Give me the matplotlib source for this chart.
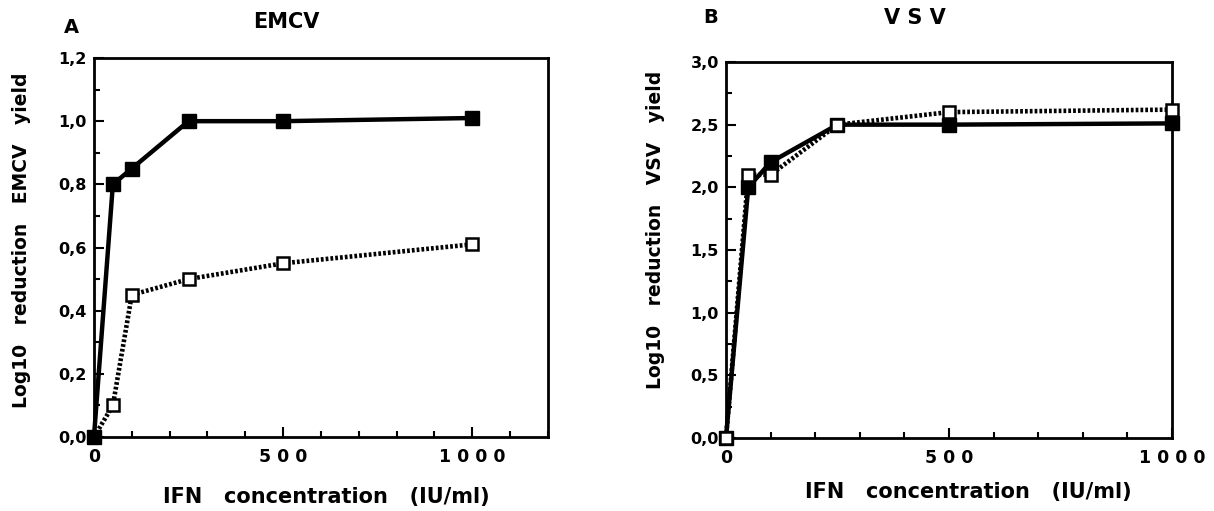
import matplotlib
matplotlib.use("Agg")
import matplotlib.pyplot as plt
from matplotlib.ticker import MultipleLocator, FixedLocator

plt.rcParams['font.family'] = ['DejaVu Sans']
plt.rcParams['font.weight'] = 'bold'

# Data
conc = [0, 50, 100, 250, 500, 1000]
emcv_filled = [0.0, 0.80, 0.85, 1.00, 1.00, 1.01]
emcv_open = [0.0, 0.10, 0.45, 0.50, 0.55, 0.61]
vsv_filled = [0.0, 2.00, 2.20, 2.50, 2.50, 2.51]
vsv_open = [0.0, 2.10, 2.10, 2.50, 2.60, 2.62]

emcv_yticks = [0.0, 0.2, 0.4, 0.6, 0.8, 1.0, 1.2]
emcv_ylabels = ['0,0', '0,2', '0,4', '0,6', '0,8', '1,0', '1,2']
vsv_yticks = [0.0, 0.5, 1.0, 1.5, 2.0, 2.5, 3.0]
vsv_ylabels = ['0,0', '0,5', '1,0', '1,5', '2,0', '2,5', '3,0']
xticks = [0, 500, 1000]
xlabels = ['0', '5 0 0', '1 0 0 0']

fig = plt.figure(figsize=(12.14, 5.11), dpi=100)
axA = fig.add_axes([0.0774, 0.1448, 0.374, 0.7417])
axB = fig.add_axes([0.598, 0.1429, 0.3674, 0.7358])

def style(ax, xmax, ymax, yticks, ylabels, yminor):
    ax.set_xlim(0, xmax)
    ax.set_ylim(0, ymax)
    ax.xaxis.set_major_locator(FixedLocator(xticks))
    ax.set_xticklabels(xlabels)
    ax.xaxis.set_minor_locator(MultipleLocator(100))
    ax.yaxis.set_major_locator(FixedLocator(yticks))
    ax.set_yticklabels(ylabels)
    ax.yaxis.set_minor_locator(MultipleLocator(yminor))
    ax.tick_params(which='both', direction='in', width=1.5)
    ax.tick_params(which='major', length=7)
    ax.tick_params(which='minor', length=4)
    ax.tick_params(axis='x', which='major', pad=8, labelsize=12.5)
    ax.tick_params(axis='y', which='major', pad=5, labelsize=11.5)
    for s in ax.spines.values():
        s.set_linewidth(2)
    for lab in ax.get_xticklabels() + ax.get_yticklabels():
        lab.set_fontweight('bold')

def plot_series(ax, filled, opened, open_on_top):
    ax.plot(conc, opened, linestyle=(0, (0.6, 0.45)), color='black', lw=3.3,
            marker='s', markersize=9, markerfacecolor='white',
            markeredgecolor='black', markeredgewidth=1.8, clip_on=False,
            zorder=5 if open_on_top else 3)
    ax.plot(conc, filled, linestyle='-', color='black', lw=3.2,
            marker='s', markersize=9.5, markerfacecolor='black',
            markeredgecolor='black', clip_on=False, zorder=4)

plot_series(axA, emcv_filled, emcv_open, False)
style(axA, 1200, 1.2, emcv_yticks, emcv_ylabels, 0.1)
plot_series(axB, vsv_filled, vsv_open, True)
style(axB, 1000, 3.0, vsv_yticks, vsv_ylabels, 0.25)

fig.text(0.059, 0.947, 'A', fontsize=14, fontweight='bold', ha='center', va='center')
fig.text(0.236, 0.957, 'EMCV', fontsize=15, fontweight='bold', ha='center', va='center')
fig.text(0.585, 0.965, 'B', fontsize=14, fontweight='bold', ha='center', va='center')
fig.text(0.754, 0.964, 'V S V', fontsize=15, fontweight='bold', ha='center', va='center')

fig.text(0.018, 0.53, 'Log10   reduction   EMCV   yield', rotation=90, fontsize=13.5,
         fontweight='bold', ha='center', va='center')
fig.text(0.540, 0.55, 'Log10   reduction   VSV   yield', rotation=90, fontsize=13.5,
         fontweight='bold', ha='center', va='center')
fig.text(0.2685, 0.027, 'IFN   concentration   (IU/ml)', fontsize=15,
         fontweight='bold', ha='center', va='center')
fig.text(0.798, 0.037, 'IFN   concentration   (IU/ml)', fontsize=15,
         fontweight='bold', ha='center', va='center')

fig.savefig('out.png', dpi=100)
